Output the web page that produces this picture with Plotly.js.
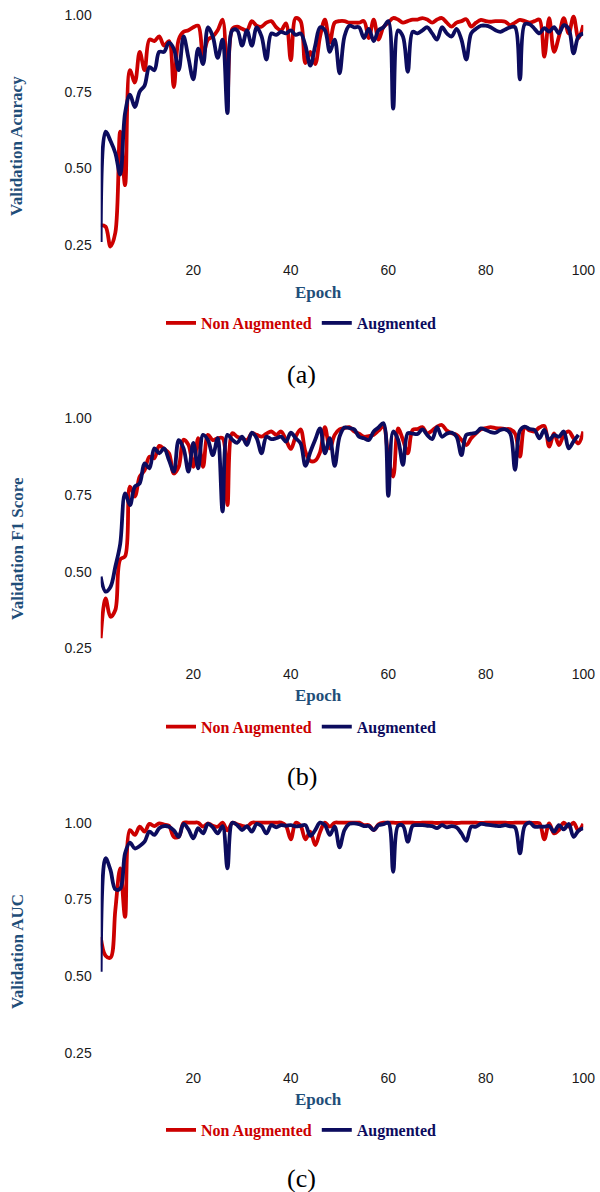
<!DOCTYPE html>
<html>
<head>
<meta charset="utf-8">
<script src="https://cdn.plot.ly/plotly-3.0.1.min.js"></script>
<style>html,body{margin:0;padding:0;background:#fff}#chart{width:600px;height:1192px}</style>
</head>
<body>
<div id="chart"></div>
<script>
// ---------------- data ----------------
const epochs = Array.from({length: 100}, (_, i) => i + 1);
const seriesNames = ["Non Augmented", "Augmented"];
const panelLabels = ["(a)", "(b)", "(c)"];
const yTitles = ["Validation Acuracy", "Validation F1 Score", "Validation AUC"];
const xTitle = "Epoch";
const yTickVals = [0.25, 0.50, 0.75, 1.00];
const xTickVals = [20, 40, 60, 80, 100];

const accNon = [0.315,0.31,0.245,0.29,0.62,0.445,0.82,0.78,0.88,0.82,
0.92,0.915,0.93,0.90,0.915,0.765,0.92,0.945,0.95,0.96,
0.965,0.87,0.92,0.93,0.95,0.985,0.74,0.955,0.962,0.955,
0.95,0.98,0.965,0.962,0.975,0.98,0.96,0.95,0.973,0.853,
0.99,0.98,0.843,0.88,0.84,0.93,0.985,0.91,0.975,0.98,
0.98,0.975,0.975,0.975,0.98,0.925,0.985,0.92,0.96,0.975,
0.99,0.985,0.975,0.98,0.985,0.985,0.99,0.985,0.975,0.985,
0.99,0.975,0.962,0.975,0.98,0.986,0.962,0.975,0.984,0.98,
0.978,0.98,0.98,0.978,0.967,0.975,0.984,0.98,0.975,0.98,
0.985,0.864,0.99,0.88,0.93,0.99,0.94,0.995,0.924,0.967];

const accAug = [0.26,0.62,0.59,0.55,0.48,0.68,0.74,0.70,0.75,0.77,
0.83,0.82,0.88,0.88,0.91,0.89,0.82,0.93,0.86,0.79,
0.89,0.84,0.96,0.93,0.86,0.92,0.68,0.95,0.95,0.90,
0.95,0.90,0.96,0.93,0.855,0.94,0.935,0.945,0.94,0.95,
0.935,0.94,0.90,0.835,0.90,0.96,0.95,0.88,0.92,0.81,
0.93,0.965,0.96,0.96,0.925,0.955,0.915,0.95,0.96,0.98,
0.695,0.95,0.93,0.815,0.945,0.94,0.95,0.96,0.94,0.92,
0.96,0.94,0.93,0.955,0.92,0.855,0.94,0.955,0.965,0.965,
0.96,0.95,0.945,0.953,0.96,0.96,0.79,0.97,0.97,0.955,
0.94,0.957,0.946,0.96,0.94,0.967,0.955,0.875,0.93,0.94];

const f1Non = [0.283,0.413,0.353,0.375,0.54,0.55,0.777,0.745,0.81,0.83,
0.875,0.87,0.91,0.90,0.886,0.82,0.842,0.93,0.913,0.842,
0.935,0.842,0.946,0.929,0.935,0.935,0.717,0.951,0.94,0.935,
0.929,0.951,0.946,0.94,0.95,0.957,0.946,0.957,0.93,0.90,
0.94,0.964,0.891,0.861,0.862,0.89,0.971,0.902,0.946,0.964,
0.968,0.971,0.957,0.95,0.94,0.942,0.946,0.96,0.973,0.87,
0.81,0.967,0.93,0.886,0.962,0.965,0.971,0.951,0.96,0.973,
0.978,0.96,0.951,0.946,0.93,0.913,0.935,0.951,0.964,0.968,
0.971,0.968,0.967,0.965,0.964,0.95,0.875,0.971,0.96,0.957,
0.97,0.975,0.908,0.951,0.913,0.945,0.957,0.935,0.918,0.957];

const f1Aug = [0.484,0.435,0.45,0.516,0.59,0.755,0.717,0.777,0.788,0.853,
0.837,0.902,0.886,0.902,0.864,0.826,0.929,0.902,0.826,0.92,
0.837,0.946,0.929,0.88,0.935,0.696,0.946,0.93,0.92,0.94,
0.913,0.953,0.935,0.886,0.94,0.932,0.935,0.94,0.924,0.953,
0.935,0.918,0.845,0.89,0.93,0.967,0.886,0.935,0.845,0.94,
0.97,0.968,0.964,0.94,0.935,0.929,0.957,0.97,0.984,0.747,
0.957,0.93,0.848,0.951,0.95,0.949,0.964,0.945,0.932,0.971,
0.94,0.95,0.953,0.94,0.88,0.946,0.95,0.953,0.967,0.962,
0.955,0.953,0.962,0.964,0.951,0.832,0.96,0.973,0.965,0.962,
0.935,0.962,0.929,0.945,0.94,0.957,0.902,0.925,0.946];

const aucNon = [0.628,0.566,0.56,0.715,0.851,0.693,0.976,0.96,0.987,0.971,
0.996,0.989,0.998,0.994,0.99,0.954,0.954,1.0,1.0,1.0,
1.0,0.987,0.998,0.99,0.987,1.0,0.975,1.0,0.995,0.99,
0.987,1.0,1.0,1.0,1.0,1.0,1.0,1.0,0.99,0.946,
1.0,0.99,0.946,0.971,0.927,0.97,1.0,0.987,1.0,1.0,
1.0,1.0,1.0,1.0,0.992,0.992,0.976,0.995,1.0,1.0,
1.0,0.999,1.0,1.0,1.0,0.999,1.0,1.0,1.0,0.999,
1.0,1.0,1.0,0.999,1.0,1.0,1.0,1.0,0.999,1.0,
1.0,1.0,1.0,1.0,0.999,1.0,1.0,1.0,1.0,0.999,
0.998,0.946,0.998,0.965,0.976,1.0,0.987,1.0,0.974,0.996];

const aucAug = [0.514,0.884,0.846,0.783,0.785,0.90,0.935,0.916,0.924,0.938,
0.971,0.96,0.982,0.989,0.987,0.975,0.954,0.996,0.978,0.949,
0.982,0.965,0.996,0.985,0.965,0.989,0.851,1.0,0.992,0.976,
0.989,0.971,0.996,0.989,0.965,0.992,0.985,0.992,0.99,0.992,
0.988,0.99,0.992,0.957,0.976,1.0,0.992,0.96,0.987,0.92,
0.976,0.996,0.998,0.995,0.989,0.989,0.976,0.992,0.995,1.0,
0.84,0.99,0.99,0.938,0.99,0.992,0.992,0.99,0.989,0.982,
0.992,0.985,0.989,0.985,0.965,0.941,0.987,0.987,0.996,0.994,
0.992,0.99,0.989,0.992,0.988,0.985,0.90,0.99,1.0,0.987,
0.987,0.987,0.989,0.971,0.992,0.978,0.996,0.954,0.974,0.982];

// ---------------- layout helpers ----------------
const W = 600, H = 1192;
const RED = "#CC0000", NAVY = "#0C0C5E", TITLE = "#1F4E79";
const ppu = 306.7;            // pixels per unit on y
const yLo = 0.2, yHi = 1.02;
const onePx = [15, 418.3, 822.7];  // pixel row of value 1.00 in each panel
const px = x => x / W;
const py = y => 1 - y / H;
function ydom(p1) {
  const top = p1 - (yHi - 1) * ppu, bot = p1 + (1 - yLo) * ppu;
  return [py(bot), py(top)];
}
const xdom = [px(100.7), px(583.3)];

const panels = [[accNon, accAug], [f1Non, f1Aug], [aucNon, aucAug]];
const colors = [RED, NAVY];
const traces = [];
panels.forEach((pair, k) => {
  pair.forEach((vals, s) => {
    traces.push({
      x: epochs.slice(0, vals.length), y: vals,
      type: "scatter", mode: "lines",
      name: '<span style="color:' + colors[s] + '">' + seriesNames[s] + '</span>',
      line: {color: colors[s], width: 3.8, shape: "spline", smoothing: 1},
      xaxis: k === 0 ? "x" : "x" + (k + 1),
      yaxis: k === 0 ? "y" : "y" + (k + 1),
      legend: k === 0 ? "legend" : "legend" + (k + 1),
      hoverinfo: "x+y"
    });
  });
});

const layout = {
  width: W, height: H,
  margin: {l: 0, r: 0, t: 0, b: 0},
  paper_bgcolor: "#fff", plot_bgcolor: "#fff",
  showlegend: true,
  annotations: []
};
const tickFont = {family: "Liberation Sans, Arial, sans-serif", size: 14, color: "#1a1a1a"};
const serif = "Liberation Serif, Times New Roman, serif";
const legendYs = [323, 726.7, 1130];
const epochYs = [292, 695, 1099];
const labelYs = [374, 776.7, 1178];
const ytitleYs = [146, 549, 952];

for (let k = 0; k < 3; k++) {
  const sx = k === 0 ? "" : String(k + 1);
  layout["xaxis" + sx] = {
    domain: xdom, range: [1, 100], anchor: "y" + sx,
    tickvals: xTickVals, ticks: "", showgrid: false, zeroline: false, showline: false,
    tickfont: tickFont, fixedrange: true
  };
  layout["yaxis" + sx] = {
    domain: ydom(onePx[k]), range: [yLo, yHi], anchor: "x" + sx,
    tickvals: yTickVals, tickformat: ".2f", ticks: "", ticklabelstandoff: 8,
    showgrid: false, zeroline: false, showline: false,
    tickfont: tickFont, fixedrange: true
  };
  layout[k === 0 ? "legend" : "legend" + (k + 1)] = {
    orientation: "h", x: px(301), xanchor: "center", y: py(legendYs[k]), yanchor: "middle",
    font: {family: serif, size: 16, weight: "bold"},
    bgcolor: "rgba(0,0,0,0)", itemwidth: 30, tracegroupgap: 0
  };
  layout.annotations.push({
    text: "<b>" + yTitles[k] + "</b>", textangle: -90, showarrow: false,
    xref: "paper", yref: "paper", x: px(17), y: py(ytitleYs[k]),
    xanchor: "center", yanchor: "middle",
    font: {family: serif, size: 17, color: TITLE}
  });
  layout.annotations.push({
    text: "<b>" + xTitle + "</b>", showarrow: false,
    xref: "paper", yref: "paper", x: px(318), y: py(epochYs[k]),
    xanchor: "center", yanchor: "middle",
    font: {family: serif, size: 17, color: TITLE}
  });
  layout.annotations.push({
    text: panelLabels[k], showarrow: false,
    xref: "paper", yref: "paper", x: px(301.7), y: py(labelYs[k]),
    xanchor: "center", yanchor: "middle",
    font: {family: serif, size: 26, color: "#000"}
  });
}

Plotly.newPlot("chart", traces, layout, {displayModeBar: false, staticPlot: true});
</script>
</body>
</html>
